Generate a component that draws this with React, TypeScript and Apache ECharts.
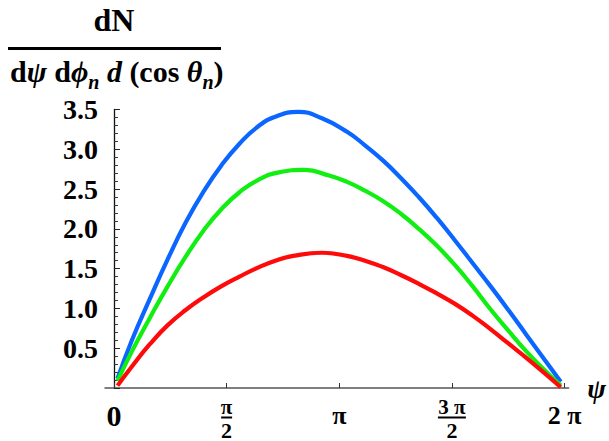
import React, { useEffect, useRef } from "react";
import * as echarts from "echarts";

const bluePsi = [0.05, 0.25, 0.5, 0.75, 1.0, 1.25, 1.5, 1.75, 2.0, 2.25, 2.57, 2.9, 3.25, 3.5, 3.75, 4.0, 4.25, 4.5, 4.75, 5.0, 5.25, 5.5, 5.75, 6.0, 6.23];
const blueValues = [0.12, 0.6, 1.12, 1.62, 2.08, 2.47, 2.8, 3.07, 3.28, 3.41, 3.47, 3.39, 3.22, 3.05, 2.86, 2.64, 2.4, 2.14, 1.86, 1.57, 1.28, 0.98, 0.67, 0.36, 0.08];
const greenPsi = [0.05, 0.25, 0.5, 0.75, 1.0, 1.25, 1.5, 1.75, 2.0, 2.3, 2.66, 3.0, 3.25, 3.5, 3.75, 4.0, 4.25, 4.5, 4.75, 5.0, 5.25, 5.5, 5.75, 6.0, 6.23];
const greenValues = [0.09, 0.46, 0.88, 1.28, 1.65, 1.98, 2.25, 2.46, 2.61, 2.71, 2.74, 2.67, 2.59, 2.48, 2.35, 2.19, 2.0, 1.79, 1.55, 1.28, 0.99, 0.72, 0.46, 0.23, 0.03];
const redPsi = [0.05, 0.25, 0.5, 0.75, 1.0, 1.25, 1.5, 1.75, 2.0, 2.25, 2.5, 2.9, 3.25, 3.5, 3.75, 4.0, 4.25, 4.5, 4.75, 5.0, 5.25, 5.5, 5.75, 6.0, 6.23];
const redValues = [0.03, 0.27, 0.55, 0.79, 0.98, 1.14, 1.28, 1.4, 1.51, 1.6, 1.66, 1.7, 1.66, 1.6, 1.52, 1.42, 1.31, 1.19, 1.06, 0.91, 0.74, 0.56, 0.38, 0.19, 0.01];

const xTickValues = [0, Math.PI / 2, Math.PI, (3 * Math.PI) / 2, 2 * Math.PI];
const xTickLabels = ["{big|0}", "{n1|π}\n{bar1| }\n{d|2}", "{mid|π}", "{n3|3 π}\n{bar3| }\n{d|2}", "{mid|2 π}"];

const SERIF = "'Liberation Serif', 'Times New Roman', serif";

export default function App() {
  const ref = useRef<HTMLDivElement>(null);
  useEffect(() => {
    if (!ref.current) return;
    const chart = echarts.init(ref.current, null, { renderer: "svg" });
    const line = (xs: number[], vals: number[], color: string) => ({
      type: "line",
      data: xs.map((p, i) => [p, vals[i]]),
      smooth: 0.5,
      showSymbol: false,
      lineStyle: { color, width: 4.2 },
      itemStyle: { color },
    });
    chart.setOption({
      animation: false,
      backgroundColor: "#ffffff",
      grid: { left: 105, right: 36, top: 109.5, bottom: 51.5 },
      xAxis: {
        type: "value",
        min: -0.125,
        max: 6.34,
        name: "ψ",
        nameLocation: "end",
        nameGap: 14,
        nameTextStyle: {
          fontFamily: SERIF,
          fontSize: 28,
          fontStyle: "italic",
          fontWeight: "bold",
          color: "#000",
          align: "left",
          verticalAlign: "middle",
          padding: [14, 0, 0, 0],
        },
        axisLine: { onZero: true, lineStyle: { color: "#555", width: 1.5 } },
        axisTick: { show: true, inside: true, length: 5, customValues: xTickValues, lineStyle: { color: "#333", width: 1 } },
        splitLine: { show: false },
        axisLabel: {
          customValues: xTickValues,
          margin: 11,
          color: "#000",
          fontFamily: SERIF,
          fontWeight: "bold",
          formatter: (v: number) => {
            let best = 0;
            for (let i = 1; i < xTickValues.length; i++) {
              if (Math.abs(xTickValues[i] - v) < Math.abs(xTickValues[best] - v)) best = i;
            }
            return xTickLabels[best];
          },
          rich: {
            big: { fontFamily: SERIF, fontWeight: "bold", fontSize: 30, lineHeight: 30, color: "#000", padding: [2, 0, 0, 0] },
            mid: { fontFamily: SERIF, fontWeight: "bold", fontSize: 26, lineHeight: 26, color: "#000", padding: [7, 0, 0, 0] },
            n1: { fontFamily: SERIF, fontWeight: "bold", fontSize: 21, lineHeight: 16, color: "#000", align: "center" },
            n3: { fontFamily: SERIF, fontWeight: "bold", fontSize: 21, lineHeight: 16, color: "#000", align: "center" },
            bar1: { width: 11, height: 2, lineHeight: 5, backgroundColor: "#000", align: "center" },
            bar3: { width: 28, height: 2, lineHeight: 5, backgroundColor: "#000", align: "center" },
            d: { fontFamily: SERIF, fontWeight: "bold", fontSize: 22, lineHeight: 20, color: "#000", align: "center" },
          },
        },
      },
      yAxis: {
        type: "value",
        min: 0,
        max: 3.5,
        interval: 0.5,
        axisLine: { show: true, onZero: true, lineStyle: { color: "#111", width: 1.3 } },
        axisTick: { show: true, inside: true, length: 6, lineStyle: { color: "#222", width: 1 } },
        minorTick: { show: true, splitNumber: 5, length: 4, lineStyle: { color: "#333", width: 1 } },
        splitLine: { show: false },
        axisLabel: {
          showMinLabel: false,
          margin: 7,
          color: "#000",
          fontFamily: SERIF,
          fontWeight: "bold",
          fontSize: 28,
          formatter: (v: number) => (v === 0 ? "" : v.toFixed(1)),
        },
      },
      series: [
        line(bluePsi, blueValues, "#0a66ff"),
        line(greenPsi, greenValues, "#11ee11"),
        line(redPsi, redValues, "#ff0a0a"),
      ],
      graphic: [
        {
          type: "text",
          x: 114,
          y: 20,
          style: {
            text: "dN",
            fontFamily: SERIF,
            fontWeight: "bold",
            fontSize: 32,
            fill: "#000",
            textAlign: "center",
            textVerticalAlign: "middle",
          },
        },
        { type: "rect", shape: { x: 8, y: 47, width: 213, height: 3 }, style: { fill: "#000" } },
        {
          type: "text",
          x: 10,
          y: 56,
          style: {
            text: "{b|d}{bi|ψ}{b| d}{bi|ϕ}{sub|n}{bi| d}{b| (cos }{bi|θ}{sub|n}{b|)}",
            fill: "#000",
            textAlign: "left",
            textVerticalAlign: "top",
            rich: {
              b: { fontFamily: SERIF, fontWeight: "bold", fontSize: 30, lineHeight: 36, verticalAlign: "top", fill: "#000" },
              bi: { fontFamily: SERIF, fontWeight: "bold", fontStyle: "italic", fontSize: 30, lineHeight: 36, verticalAlign: "top", fill: "#000" },
              sub: { fontFamily: SERIF, fontWeight: "bold", fontStyle: "italic", fontSize: 20, lineHeight: 14, verticalAlign: "bottom", fill: "#000" },
            },
          },
        },
      ],
    });
    return () => chart.dispose();
  }, []);
  return <div ref={ref} style={{ position: "fixed", left: 0, top: 0, width: 609, height: 441 }} />;
}
